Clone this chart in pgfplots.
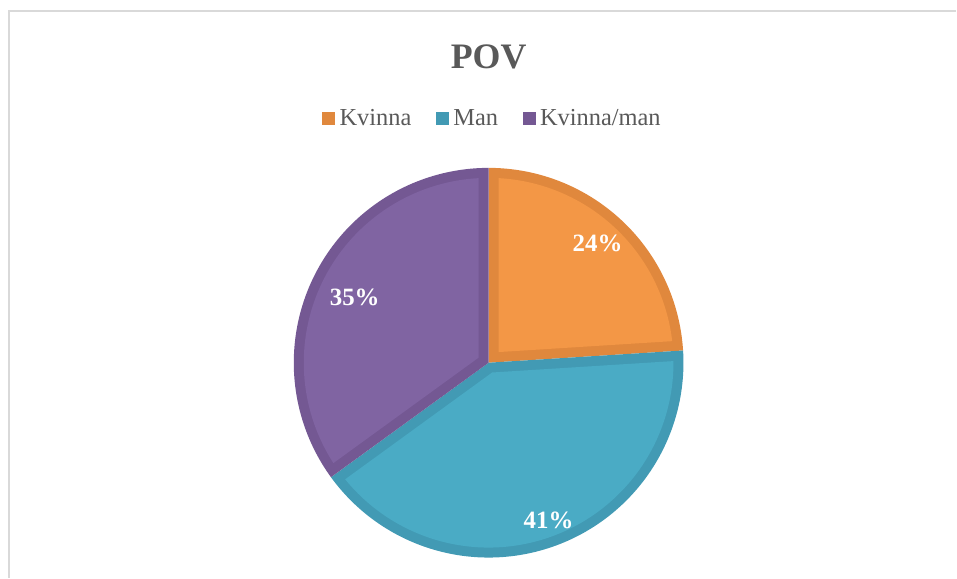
\documentclass[border=0pt]{standalone}
\usepackage{fontspec}
\setmainfont{Liberation Serif}
\usepackage{pgfplots}
\pgfplotsset{compat=1.18}

\definecolor{orlight}{HTML}{F39746}
\definecolor{ordark}{HTML}{E0883D}
\definecolor{bllight}{HTML}{4AABC5}
\definecolor{bldark}{HTML}{429AB4}
\definecolor{pulight}{HTML}{8064A2}
\definecolor{pudark}{HTML}{745893}
\definecolor{txtgray}{HTML}{595959}
\definecolor{framegray}{HTML}{D9D9D9}

\begin{document}
\begin{tikzpicture}
% shares in percent
\def\pK{24}\def\pM{41}\def\pKM{35}
% centre, radius, border width (px)
\def\cx{489}\def\cy{215}\def\R{195}\def\d{10}
\pgfmathsetmacro\ri{\R-\d}
\pgfmathsetmacro\dl{asin(\d/\ri)}
% angles (counter-clockwise), slices run clockwise from 12 o'clock
\pgfmathsetmacro\aKe{90}
\pgfmathsetmacro\aKs{90-3.6*\pK}
\pgfmathsetmacro\aMe{\aKs}
\pgfmathsetmacro\aMs{\aKs-3.6*\pM}
\pgfmathsetmacro\aPs{90}
\pgfmathsetmacro\aPe{\aMs+360}
% inner apex offsets
\pgfmathsetmacro\oK{\d/sin((\aKe-\aKs)/2)}
\pgfmathsetmacro\oM{\d/sin((\aMe-\aMs)/2)}
\pgfmathsetmacro\oP{\d/sin((\aPe-\aPs)/2)}
\pgfmathsetmacro\kx{\cx+\oK*cos((\aKe+\aKs)/2)}\pgfmathsetmacro\ky{\cy+\oK*sin((\aKe+\aKs)/2)}
\pgfmathsetmacro\mx{\cx+\oM*cos((\aMe+\aMs)/2)}\pgfmathsetmacro\my{\cy+\oM*sin((\aMe+\aMs)/2)}
\pgfmathsetmacro\px{\cx+\oP*cos((\aPe+\aPs)/2)}\pgfmathsetmacro\py{\cy+\oP*sin((\aPe+\aPs)/2)}
\begin{axis}[
  width=957bp, height=578bp, scale only axis,
  xmin=0, xmax=957, ymin=0, ymax=578,
  hide axis, clip=false,
  legend style={at={(axis cs:494,458)}, anchor=center, draw=none, fill=none,
    legend columns=3, font=\fontsize{24.5}{28}\selectfont, text=txtgray,
    nodes={inner xsep=4.5bp, text height=17bp, text depth=5bp},
    /tikz/every even column/.append style={column sep=20bp}},
]
\path (axis cs:0,0) rectangle (axis cs:957,578);
\draw[framegray, line width=1.5bp] (axis cs:9,0) -- (axis cs:9,567) -- (axis cs:957,567);

% Kvinna
\addplot[draw=none, fill=ordark, domain=\aKs:\aKe, samples=80, variable=\t,
  legend image code/.code={\fill[ordark] (0bp,-5bp) rectangle (13bp,8bp);}]
  ({\cx+\R*cos(\t)},{\cy+\R*sin(\t)}) -- (axis cs:\cx,\cy) -- cycle;
\addlegendentry{Kvinna}
% Man
\addplot[draw=none, fill=bldark, domain=\aMs:\aMe, samples=120, variable=\t,
  legend image code/.code={\fill[bldark] (0bp,-5bp) rectangle (13bp,8bp);}]
  ({\cx+\R*cos(\t)},{\cy+\R*sin(\t)}) -- (axis cs:\cx,\cy) -- cycle;
\addlegendentry{Man}
% Kvinna/man
\addplot[draw=none, fill=pudark, domain=\aPs:\aPe, samples=100, variable=\t,
  legend image code/.code={\fill[pudark] (0bp,-5bp) rectangle (13bp,8bp);}]
  ({\cx+\R*cos(\t)},{\cy+\R*sin(\t)}) -- (axis cs:\cx,\cy) -- cycle;
\addlegendentry{Kvinna/man}

% lighter inner parts
\addplot[forget plot, draw=none, fill=orlight, domain=\aKs+\dl:\aKe-\dl, samples=80, variable=\t]
  ({\cx+\ri*cos(\t)},{\cy+\ri*sin(\t)}) -- (axis cs:\kx,\ky) -- cycle;
\addplot[forget plot, draw=none, fill=bllight, domain=\aMs+\dl:\aMe-\dl, samples=120, variable=\t]
  ({\cx+\ri*cos(\t)},{\cy+\ri*sin(\t)}) -- (axis cs:\mx,\my) -- cycle;
\addplot[forget plot, draw=none, fill=pulight, domain=\aPs+\dl:\aPe-\dl, samples=100, variable=\t]
  ({\cx+\ri*cos(\t)},{\cy+\ri*sin(\t)}) -- (axis cs:\px,\py) -- cycle;

% data labels
\node[text=white, font=\bfseries\fontsize{25}{28}\selectfont] at (axis cs:598,334) {24\%};
\node[text=white, font=\bfseries\fontsize{25}{28}\selectfont] at (axis cs:355,280) {35\%};
\node[text=white, font=\bfseries\fontsize{25}{28}\selectfont] at (axis cs:549,57) {41\%};

% title
\node[text=txtgray, font=\bfseries\fontsize{36}{40}\selectfont] at (axis cs:489,521) {POV};
\end{axis}
\end{tikzpicture}
\end{document}
